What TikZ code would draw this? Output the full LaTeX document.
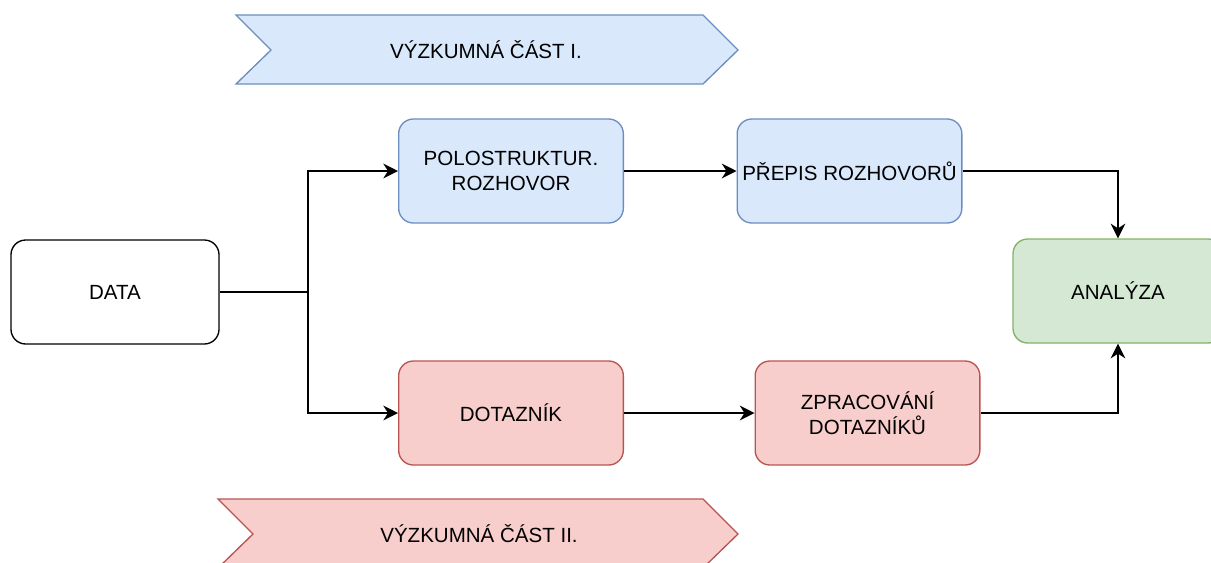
\documentclass[tikz,border=0pt]{standalone}
\usepackage{fontspec}
\setmainfont{Liberation Sans}
\usetikzlibrary{arrows.meta}
\definecolor{blueFill}{HTML}{DAE8FC}
\definecolor{blueLine}{HTML}{6C8EBF}
\definecolor{redFill}{HTML}{F8CECC}
\definecolor{redLine}{HTML}{B85450}
\definecolor{greenFill}{HTML}{D5E8D4}
\definecolor{greenLine}{HTML}{82B366}

\begin{document}
\begin{tikzpicture}[x=0.75pt,y=-0.75pt,
		font=\fontsize{15.4}{18.5}\selectfont,
		box/.style={draw, rounded corners=11pt, line width=1pt, minimum height=78pt, align=center, inner sep=0pt},
		bluebox/.style={box, fill=blueFill, draw=blueLine, minimum width=168.5pt},
		redbox/.style={box, fill=redFill, draw=redLine, minimum width=168.5pt},
		arr/.style={line width=1.3pt, -{Stealth[length=11pt,width=11pt,inset=3.5pt]}}]
		\useasboundingbox (0,0) rectangle (1211,562);
		%%%%%%%%%%%%%
		\filldraw[fill=blueFill, draw=blueLine, line width=1pt] (236,15) -- (703,15) -- (738,50) -- (703,84) -- (236,84) -- (271,50) -- cycle;
		\filldraw[fill=redFill, draw=redLine, line width=1pt] (218,499) -- (703,499) -- (738,534) -- (703,568) -- (218,568) -- (253,534) -- cycle;
		\node (cast1) at (486,50) {VÝZKUMNÁ ČÁST I.};
		\node (cast2) at (479,534) {VÝZKUMNÁ ČÁST II.};
		%%%%%%%%%%%%%
		\node[box, fill=white, minimum width=156pt] (data) at (115,292) {DATA};
		\node[bluebox] (rozhovor) at (511,171) {POLOSTRUKTUR.\\ROZHOVOR};
		\node[bluebox] (prepis) at (849.5,171) {PŘEPIS ROZHOVORŮ};
		\node[redbox] (dotaznik) at (511,413) {DOTAZNÍK};
		\node[redbox] (zpracovani) at (867.5,413) {ZPRACOVÁNÍ\\DOTAZNÍKŮ};
		\node[box, fill=greenFill, draw=greenLine, minimum width=157.5pt] (analyza) at (1118,291) {ANALÝZA};
		\coordinate (split) at (308,292);
		%%%%%%%%%%%%%
		\draw [line width=1.3pt] (data) -- (split);
		\draw [arr] (split) |- (rozhovor);
		\draw [arr] (split) |- (dotaznik);
		\draw [arr] (rozhovor) -- (prepis);
		\draw [arr] (dotaznik) -- (zpracovani);
		\draw [arr] (prepis) -| (analyza);
		\draw [arr] (zpracovani) -| (analyza);
\end{tikzpicture}
\end{document}
